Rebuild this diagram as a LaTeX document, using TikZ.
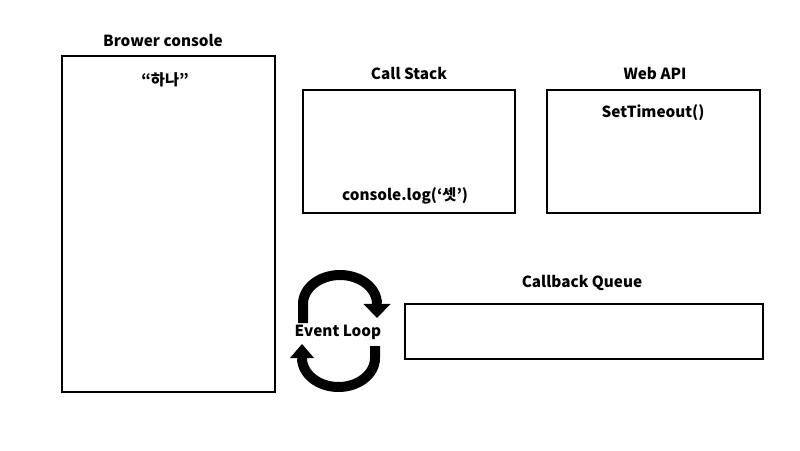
\documentclass[tikz,border=0pt]{standalone}
\usepackage{fontspec}
\setmainfont{Noto Sans CJK KR}
\tikzset{
  box/.style={draw=black, line width=2pt},
  lbl/.style={font=\fontsize{15.3}{17}\selectfont\bfseries, inner sep=0pt},
  loop/.style={line width=10pt, line cap=butt},
  head/.style={fill=black},
}
\begin{document}
\begin{tikzpicture}[x=1pt,y=1pt]
\useasboundingbox (0,0) rectangle (800,450);
% boxes
\draw[box] (62,58) rectangle (275,394);
\draw[box] (303,237) rectangle (515,360);
\draw[box] (547,237) rectangle (760,360);
\draw[box] (405,91) rectangle (763,146);
% titles
\node[lbl] (tbc) at (163,410) {Brower console};
\node[lbl] (hana) at (165,370) {“하나”};
\node[lbl] (tcs) at (409,377) {Call Stack};
\node[lbl] (log) at (405,254) {console.log(‘셋’)};
\node[lbl] (twa) at (655,377) {Web API};
\node[lbl] (st) at (653,337) {SetTimeout()};
\node[lbl] (tcq) at (582,167) {Callback Queue};
\node[lbl] (el) at (338,118) {Event Loop};
% event loop arrows
\coordinate (topstart) at (303,127);
\coordinate (topend) at (377,146);
\coordinate (botstart) at (375,104);
\coordinate (botend) at (302,92);
\draw[loop] (topstart) -- ++(0,19) arc[start angle=180, end angle=0, x radius=37, y radius=29];
\fill[head] ([xshift=-13.5pt]topend) -- ([xshift=13.5pt]topend) -- ([yshift=-14pt]topend) -- cycle;
\draw[loop] (botstart) -- ++(0,-12) arc[start angle=0, end angle=-180, x radius=36.5, y radius=29];
\fill[head] ([xshift=-12pt]botend) -- ([xshift=12pt]botend) -- ([yshift=14pt]botend) -- cycle;
\end{tikzpicture}
\end{document}
